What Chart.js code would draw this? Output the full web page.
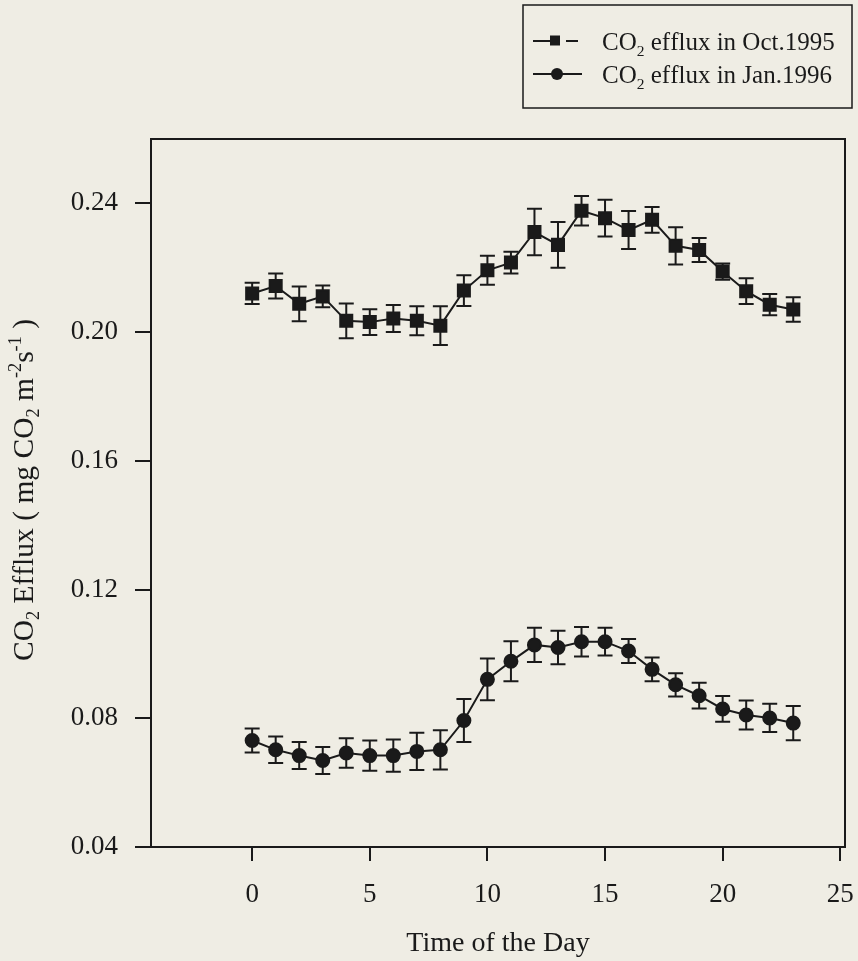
<!DOCTYPE html>
<html>
<head>
<meta charset="utf-8">
<script src="https://cdn.jsdelivr.net/npm/chart.js@4.4.1/dist/chart.umd.min.js"></script>
<style>
  html, body { margin: 0; padding: 0; background: #efede4; }
  #wrap { width: 858px; height: 961px; position: relative; }
</style>
</head>
<body>
<div id="wrap"><canvas id="chart"></canvas></div>
<script>
// hour of the day
const hours = [0, 1, 2, 3, 4, 5, 6, 7, 8, 9, 10, 11, 12, 13, 14, 15, 16, 17, 18, 19, 20, 21, 22, 23];

// Oct. 1995 efflux and error
const octValues = [0.212, 0.2143, 0.2088, 0.2111, 0.2035, 0.2031, 0.2042, 0.2035, 0.202, 0.2129, 0.2192, 0.2216,
  0.2311, 0.2271, 0.2377, 0.2354, 0.2317, 0.2349, 0.2268, 0.2255, 0.2188, 0.2127, 0.2085, 0.207];
const octErrors = [0.0033, 0.0039, 0.0054, 0.0034, 0.0054, 0.004, 0.0042, 0.0045, 0.006, 0.0048, 0.0045, 0.0034,
  0.0072, 0.0071, 0.0046, 0.0057, 0.0059, 0.004, 0.0058, 0.0037, 0.0025, 0.004, 0.0033, 0.0038];

// Jan. 1996 efflux and error
const janValues = [0.0731, 0.0702, 0.0684, 0.0669, 0.0692, 0.0684, 0.0684, 0.0697, 0.0702, 0.0793, 0.0921, 0.0977,
  0.1028, 0.102, 0.1038, 0.1038, 0.1009, 0.0952, 0.0904, 0.087, 0.0829, 0.081, 0.0801, 0.0785];
const janErrors = [0.0037, 0.0041, 0.0042, 0.0042, 0.0046, 0.0047, 0.005, 0.0058, 0.0061, 0.0067, 0.0065, 0.0062,
  0.0053, 0.0052, 0.0046, 0.0043, 0.0037, 0.0037, 0.0036, 0.004, 0.004, 0.0045, 0.0044, 0.0053];

const seriesLabels = ['CO₂ efflux in Oct.1995', 'CO₂ efflux in Jan.1996'];
const xTicks = [0, 5, 10, 15, 20, 25];
const yTicks = [0.04, 0.08, 0.12, 0.16, 0.20, 0.24];
const xTitle = 'Time of the Day';
const yTitle = 'CO₂ Efflux ( mg CO₂ m⁻²s⁻¹ )';

const SERIF = '"Liberation Serif", "Times New Roman", serif';
const INK = '#1a1a1a';

// sub/superscript chars drawn as small digits
const SUB = { '₂': '2' };
const SUP = { '⁻': '-', '²': '2', '¹': '1' };

const richWidth = (ctx, text, size) => {
  let w = 0;
  for (const ch of text) {
    const small = SUB[ch] || SUP[ch];
    ctx.font = `${small ? size * 0.62 : size}px ${SERIF}`;
    w += ctx.measureText(small || ch).width;
  }
  return w;
};

const drawRich = (ctx, text, x, y, size) => {
  ctx.textAlign = 'left';
  ctx.textBaseline = 'alphabetic';
  for (const ch of text) {
    let s = ch; let dy = 0; let fs = size;
    if (SUB[ch]) { s = SUB[ch]; fs = size * 0.62; dy = size * 0.22; }
    if (SUP[ch]) { s = SUP[ch]; fs = size * 0.62; dy = -size * 0.42; }
    ctx.font = `${fs}px ${SERIF}`;
    ctx.fillText(s, x, y + dy);
    x += ctx.measureText(s).width;
  }
};

const toPoints = (values) => values.map((v, i) => ({ x: hours[i], y: v }));

const errorBars = {
  id: 'errorBars',
  beforeDatasetsDraw(chart) {
    const { ctx, scales: { x, y } } = chart;
    const sets = [[octValues, octErrors], [janValues, janErrors]];
    ctx.save();
    ctx.strokeStyle = INK;
    ctx.lineWidth = 2;
    sets.forEach(([vals, errs]) => {
      vals.forEach((v, i) => {
        const px = x.getPixelForValue(hours[i]);
        const top = y.getPixelForValue(v + errs[i]);
        const bot = y.getPixelForValue(v - errs[i]);
        ctx.beginPath();
        ctx.moveTo(px, top); ctx.lineTo(px, bot);
        ctx.moveTo(px - 7.5, top); ctx.lineTo(px + 7.5, top);
        ctx.moveTo(px - 7.5, bot); ctx.lineTo(px + 7.5, bot);
        ctx.stroke();
      });
    });
    ctx.restore();
  },
};

const frameAndText = {
  id: 'frameAndText',
  afterDraw(chart) {
    const { ctx, chartArea: a } = chart;
    ctx.save();
    ctx.strokeStyle = INK;
    ctx.fillStyle = INK;
    ctx.lineWidth = 2;
    ctx.strokeRect(a.left, a.top, a.right - a.left, a.bottom - a.top);

    // y title
    const ySize = 29.5;
    const yw = richWidth(ctx, yTitle, ySize);
    ctx.save();
    ctx.translate(33, 490);
    ctx.rotate(-Math.PI / 2);
    drawRich(ctx, yTitle, -yw / 2, 0, ySize);
    ctx.restore();

    // legend box
    ctx.lineWidth = 1.5;
    ctx.strokeRect(523, 5, 329, 103);
    const rows = [50, 83];
    const lSize = 25;
    ctx.lineWidth = 2;
    // row 1: line, square, dash
    ctx.beginPath();
    ctx.moveTo(533, rows[0] - 9); ctx.lineTo(552, rows[0] - 9);
    ctx.moveTo(566, rows[0] - 9); ctx.lineTo(578, rows[0] - 9);
    ctx.stroke();
    ctx.fillRect(550, rows[0] - 14.5, 10, 10);
    // row 2: line with circle
    ctx.beginPath();
    ctx.moveTo(533, rows[1] - 9); ctx.lineTo(582, rows[1] - 9);
    ctx.stroke();
    ctx.beginPath();
    ctx.arc(557, rows[1] - 9, 6, 0, Math.PI * 2);
    ctx.fill();
    seriesLabels.forEach((lab, i) => drawRich(ctx, lab, 602, rows[i], lSize));
    ctx.restore();
  },
};

const axisCommon = {
  grid: { drawOnChartArea: false, drawTicks: true, color: INK, lineWidth: 2 },
  border: { color: INK, width: 2 },
  ticks: { color: INK, font: { family: SERIF, size: 27 } },
};

new Chart(document.getElementById('chart'), {
  type: 'line',
  data: {
    datasets: [
      {
        label: seriesLabels[0],
        data: toPoints(octValues),
        borderColor: INK,
        backgroundColor: INK,
        borderWidth: 2,
        pointStyle: 'rect',
        pointRadius: 8.5,
        pointHoverRadius: 8.5,
      },
      {
        label: seriesLabels[1],
        data: toPoints(janValues),
        borderColor: INK,
        backgroundColor: INK,
        borderWidth: 2,
        pointStyle: 'circle',
        pointRadius: 6.5,
        pointHoverRadius: 6.5,
      },
    ],
  },
  plugins: [errorBars, frameAndText],
  options: {
    responsive: true,
    maintainAspectRatio: false,
    animation: false,
    layout: { padding: { top: 139, right: 13, left: 0, bottom: 0 } },
    plugins: { legend: { display: false }, tooltip: { enabled: false } },
    scales: {
      x: {
        type: 'linear',
        min: -4.3,
        max: 25.2,
        afterBuildTicks: (scale) => { scale.ticks = xTicks.map((v) => ({ value: v })); },
        afterFit: (scale) => {
          scale.height = 114;
          scale.paddingLeft = 0;
          scale.paddingRight = 0;
        },
        grid: { ...axisCommon.grid, tickLength: 14 },
        border: axisCommon.border,
        ticks: { ...axisCommon.ticks, padding: 18, maxRotation: 0 },
        title: {
          display: true,
          text: xTitle,
          color: INK,
          font: { family: SERIF, size: 28 },
          padding: { top: 0, bottom: 1 },
        },
      },
      y: {
        min: 0.04,
        max: 0.26,
        afterBuildTicks: (scale) => { scale.ticks = yTicks.map((v) => ({ value: v })); },
        afterFit: (scale) => {
          scale.width = 151;
          scale.paddingTop = 0;
          scale.paddingBottom = 0;
        },
        grid: { ...axisCommon.grid, tickLength: 16 },
        border: axisCommon.border,
        ticks: { ...axisCommon.ticks, padding: 17, callback: (v) => v.toFixed(2) },
      },
    },
  },
});
</script>
</body>
</html>
